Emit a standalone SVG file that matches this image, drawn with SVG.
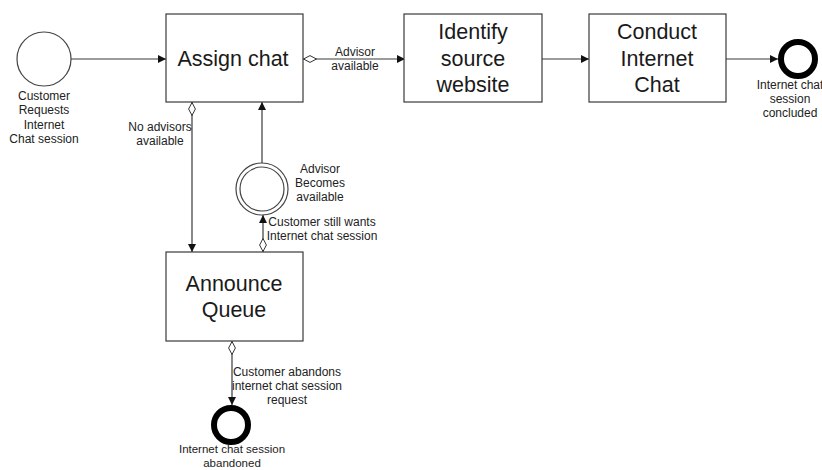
<svg xmlns="http://www.w3.org/2000/svg" width="822" height="470" viewBox="0 0 822 470">
<style>
.box{fill:#fff;stroke:#3a3a3a;stroke-width:1.2}
.big{font-family:"Liberation Sans",Arial,sans-serif;font-size:21.5px;fill:#1a1a1a;text-anchor:middle}
.sm{font-family:"Liberation Sans",Arial,sans-serif;font-size:12px;fill:#222;text-anchor:middle}
.ln{fill:none;stroke:#3a3a3a;stroke-width:1.2}
.ev{fill:#fff;stroke:#444;stroke-width:1.2}
.end{fill:#fff;stroke:#000;stroke-width:6}
</style>
<defs>
<marker id="arr" viewBox="0 0 10 10" refX="10" refY="5" markerWidth="8" markerHeight="8" markerUnits="userSpaceOnUse" orient="auto"><path d="M0,0 L10,5 L0,10 z" fill="#111"/></marker>
<marker id="dia" viewBox="0 0 14 8" refX="0" refY="4" markerWidth="14" markerHeight="8" markerUnits="userSpaceOnUse" orient="auto"><path d="M0.5,4 L7,0.6 L13.5,4 L7,7.4 z" fill="#fff" stroke="#333" stroke-width="1"/></marker>
</defs>
<g id="connectors">
<path class="ln" d="M71,59 H166" marker-end="url(#arr)"/>
<path class="ln" d="M303,59 H405" marker-start="url(#dia)" marker-end="url(#arr)"/>
<path class="ln" d="M542,59 H589" marker-end="url(#arr)"/>
<path class="ln" d="M726,59 H778" marker-end="url(#arr)"/>
<path class="ln" d="M192,102 V252" marker-start="url(#dia)" marker-end="url(#arr)"/>
<path class="ln" d="M262,163 V102" marker-end="url(#arr)"/>
<path class="ln" d="M263,252 V215" marker-start="url(#dia)" marker-end="url(#arr)"/>
<path class="ln" d="M232,341 V405" marker-start="url(#dia)" marker-end="url(#arr)"/>
<text class="sm" x="355" y="56">Advisor</text>
<text class="sm" x="355" y="70">available</text>
<text class="sm" x="160" y="131">No advisors</text>
<text class="sm" x="160" y="145">available</text>
<text class="sm" x="322" y="226">Customer still wants</text>
<text class="sm" x="322" y="240">Internet chat session</text>
<text class="sm" x="287" y="376">Customer abandons</text>
<text class="sm" x="287" y="390">internet chat session</text>
<text class="sm" x="287" y="404">request</text>
</g>
<g id="start">
<circle class="ev" cx="44" cy="59" r="27"/>
<text class="sm" x="44" y="100">Customer</text>
<text class="sm" x="44" y="114">Requests</text>
<text class="sm" x="44" y="129">Internet</text>
<text class="sm" x="44" y="143">Chat session</text>
</g>
<g id="assign">
<rect class="box" x="166" y="14" width="137" height="88"/>
<text class="big" x="233" y="66">Assign chat</text>
</g>
<g id="identify">
<rect class="box" x="404" y="14" width="138" height="88"/>
<text class="big" x="473" y="39">Identify</text>
<text class="big" x="473" y="66">source</text>
<text class="big" x="473" y="92">website</text>
</g>
<g id="conduct">
<rect class="box" x="589" y="14" width="137" height="88"/>
<text class="big" x="657" y="39">Conduct</text>
<text class="big" x="657" y="66">Internet</text>
<text class="big" x="657" y="92">Chat</text>
</g>
<g id="end-concluded">
<circle class="end" cx="798" cy="59" r="17"/>
<text class="sm" x="790" y="89">Internet chat</text>
<text class="sm" x="790" y="103">session</text>
<text class="sm" x="790" y="117">concluded</text>
</g>
<g id="advisor-available">
<circle class="ev" cx="262" cy="189" r="26"/>
<circle class="ev" cx="262" cy="189" r="22"/>
<text class="sm" x="320" y="173">Advisor</text>
<text class="sm" x="320" y="187">Becomes</text>
<text class="sm" x="320" y="201">available</text>
</g>
<g id="announce">
<rect class="box" x="166" y="252" width="137" height="89"/>
<text class="big" x="234" y="291">Announce</text>
<text class="big" x="234" y="317">Queue</text>
</g>
<g id="end-abandoned">
<circle class="end" cx="231" cy="425" r="17"/>
<text class="sm" x="232" y="453" style="font-size:11.5px">Internet chat session</text>
<text class="sm" x="232" y="467" style="font-size:11.5px">abandoned</text>
</g>
</svg>
